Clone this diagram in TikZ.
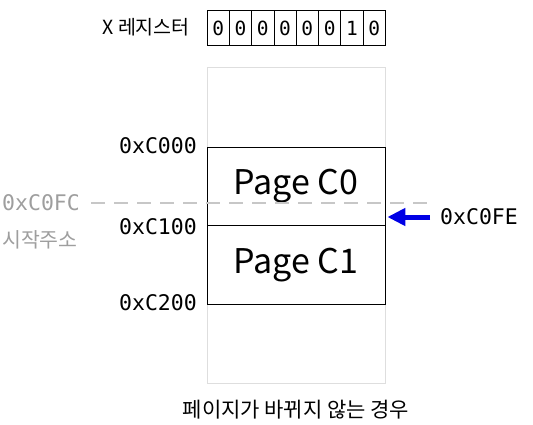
\documentclass[tikz,border=0pt]{standalone}
\usepackage{fontspec}
\setmainfont{Noto Sans CJK KR}
\setmonofont{DejaVu Sans Mono}
\usetikzlibrary{arrows.meta}

\begin{document}
\begin{tikzpicture}[x=1pt,y=-1pt]

\def\sz{22.3pt}
\tikzstyle{cell} = [
	draw, rectangle, inner sep=0pt, line width=0.8pt,
	minimum height=35pt, minimum width=\sz,
	font=\ttfamily\fontsize{19.5}{19.5}\selectfont ];
\tikzstyle{page} = [draw, rectangle, line width=0.8pt,
	minimum width=178pt, minimum height=78.5pt,
	font=\fontsize{34}{34}\selectfont ];
\tikzstyle{addr} = [anchor=east, inner sep=0pt,
	font=\ttfamily\fontsize{21.5}{21.5}\selectfont];
\tikzstyle{note} = [anchor=west, inner sep=0pt, text=black!38];
\useasboundingbox (0,0) rectangle (533,425);

% register
\node[anchor=east,inner sep=0pt,font=\fontsize{19.5}{19.5}\selectfont] (xreg) at (190,27) {X 레지스터};
\node[cell] (r0) at (207+0.5*\sz,28) {0};
\node[cell] (r1) at (207+1.5*\sz,28) {0};
\node[cell] (r2) at (207+2.5*\sz,28) {0};
\node[cell] (r3) at (207+3.5*\sz,28) {0};
\node[cell] (r4) at (207+4.5*\sz,28) {0};
\node[cell] (r5) at (207+5.5*\sz,28) {0};
\node[cell] (r6) at (207+6.5*\sz,28) {1};
\node[cell] (r7) at (207+7.5*\sz,28) {0};

% memory
\node[draw=black!13, line width=1pt, minimum width=178pt, minimum height=315pt] (mem) at (296,225.5) {};
\node[page] (c0) at (296,186.5) {Page C0};
\node[page] (c1) at (296,265) {Page C1};

\node[addr] (a0) at (197,146) {0xC000};
\node[addr] (a1) at (197,227) {0xC100};
\node[addr] (a2) at (197,303) {0xC200};

% start address
\node[note, font=\ttfamily\fontsize{21.5}{21.5}\selectfont] (fc) at (2,203) {0xC0FC};
\node[note, font=\fontsize{20.5}{20.5}\selectfont] (start) at (2,240) {시작주소};
\coordinate (dend) at (436,203);
\draw[black!22, line width=2.5pt, dash pattern=on 14pt off 9pt] ([xshift=11pt]fc.east) -- (dend);

% pointer
\node[anchor=west, inner sep=0pt, font=\ttfamily\fontsize{21.5}{21.5}\selectfont] (fe) at (440,217) {0xC0FE};
\draw[blue!90!black, line width=5pt, -{Triangle[length=18pt,width=17pt]}] ([xshift=-10pt]fe.west) -- ([xshift=2pt]c0.east |- fe.west);

\node[font=\fontsize{21}{21}\selectfont] (cap) at (296,410) {페이지가 바뀌지 않는 경우};

\end{tikzpicture}
\end{document}
